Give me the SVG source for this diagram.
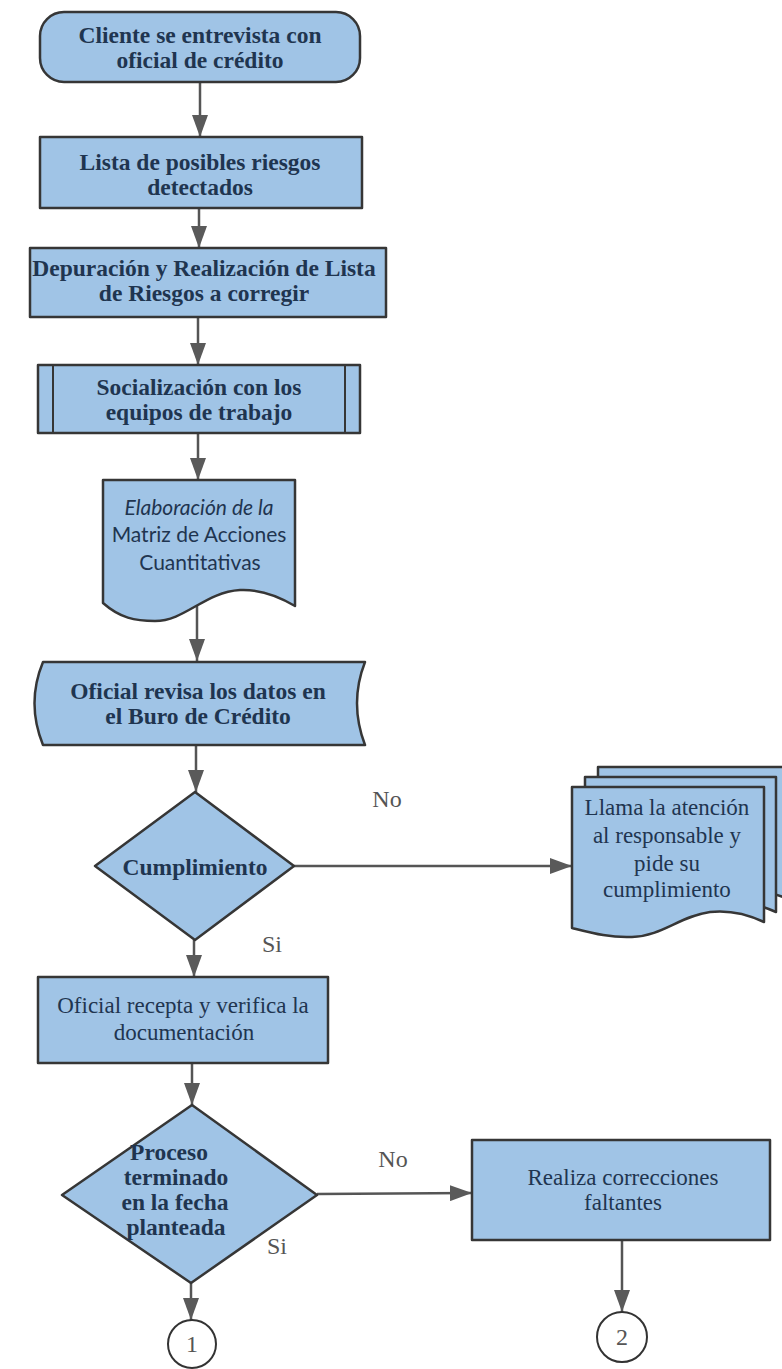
<svg xmlns="http://www.w3.org/2000/svg" width="782" height="1369" viewBox="0 0 782 1369">
<defs>
<style>
.box{fill:#a0c4e6;stroke:#363636;stroke-width:2.5;stroke-linejoin:round}
.thin{fill:none;stroke:#363636;stroke-width:2}
.bt{font-family:"Liberation Serif",serif;font-weight:bold;font-size:23.5px;fill:#1f3550;text-anchor:middle}
.rt{font-family:"Liberation Serif",serif;font-size:23px;fill:#1f3550;text-anchor:middle}
.st{font-family:Lato,"Liberation Sans",sans-serif;font-size:21px;fill:#1f3550;text-anchor:middle}
.lbl{font-family:"Liberation Serif",serif;font-size:24px;fill:#555;text-anchor:middle}
.con{fill:none;stroke:#555;stroke-width:2.5}
.circ{fill:#fff;stroke:#333;stroke-width:2}
</style>
<marker id="ah" markerUnits="userSpaceOnUse" markerWidth="22" markerHeight="16" refX="22" refY="8" orient="auto">
<path d="M0,0 L22,8 L0,16 Z" fill="#5a5a5a"/>
</marker>
</defs>
<rect width="782" height="1369" fill="#fff"/>

<g id="connectors">
<line class="con" x1="200" y1="82" x2="200" y2="137" marker-end="url(#ah)"/>
<line class="con" x1="199" y1="208" x2="199" y2="248" marker-end="url(#ah)"/>
<line class="con" x1="198" y1="317" x2="198" y2="365" marker-end="url(#ah)"/>
<line class="con" x1="198" y1="433" x2="198" y2="480" marker-end="url(#ah)"/>
<line class="con" x1="197" y1="606" x2="197" y2="661" marker-end="url(#ah)"/>
<line class="con" x1="196" y1="745" x2="196" y2="792" marker-end="url(#ah)"/>
<line class="con" x1="194" y1="940" x2="194" y2="977" marker-end="url(#ah)"/>
<line class="con" x1="192" y1="1063" x2="192" y2="1105" marker-end="url(#ah)"/>
<line class="con" x1="191" y1="1283" x2="191" y2="1320" marker-end="url(#ah)"/>
<line class="con" x1="294" y1="866" x2="572" y2="866" marker-end="url(#ah)"/>
<line class="con" x1="317" y1="1194" x2="472" y2="1193" marker-end="url(#ah)"/>
<line class="con" x1="622" y1="1240" x2="622" y2="1312" marker-end="url(#ah)"/>
<text class="lbl" x="387" y="807">No</text>
<text class="lbl" x="272" y="952">Si</text>
<text class="lbl" x="393" y="1167">No</text>
<text class="lbl" x="277" y="1254">Si</text>
</g>

<g id="n1">
<rect class="box" x="40" y="12" width="320" height="70" rx="24"/>
<text class="bt" x="200" y="43">Cliente se entrevista con</text>
<text class="bt" x="200" y="68">oficial de crédito</text>
</g>

<g id="n2">
<rect class="box" x="40" y="137" width="322" height="71"/>
<text class="bt" x="200" y="170">Lista de posibles riesgos</text>
<text class="bt" x="200" y="195">detectados</text>
</g>

<g id="n3">
<rect class="box" x="30" y="248" width="356" height="69"/>
<text class="bt" x="204" y="276">Depuración y Realización de Lista</text>
<text class="bt" x="204" y="301">de Riesgos a corregir</text>
</g>

<g id="n4">
<rect class="box" x="38" y="365" width="322" height="68"/>
<line class="thin" x1="53" y1="365" x2="53" y2="433"/>
<line class="thin" x1="345" y1="365" x2="345" y2="433"/>
<text class="bt" x="199" y="395">Socialización con los</text>
<text class="bt" x="199" y="420">equipos de trabajo</text>
</g>

<g id="n5">
<path class="box" d="M103,480 H295 V606 C280,597 262,589 240,590 C205,592 185,621 155,621 C135,621 120,618 103,603 Z"/>
<text class="st" x="199" y="515" font-style="italic">Elaboración de la</text>
<text class="st" x="199" y="542">Matriz de Acciones</text>
<text class="st" x="200" y="570">Cuantitativas</text>
</g>

<g id="n6">
<path class="box" d="M43,662 H365 Q349,703 365,745 H43 Q26,703 43,662 Z"/>
<text class="bt" x="198" y="699">Oficial revisa los datos en</text>
<text class="bt" x="198" y="724">el Buro de Crédito</text>
</g>

<g id="d1">
<polygon class="box" points="195,792 294,866 195,940 95,866"/>
<text class="bt" x="195" y="875">Cumplimiento</text>
</g>

<g id="n7">
<path class="box" d="M598,767 H790 V900 C770,891 750,888 735,890 C705,894 690,914 660,915 C640,916 620,910 598,902 Z"/>
<path class="box" d="M585,777 H776 V912 C756,903 740,900 722,902 C692,906 676,925 646,926 C626,927 606,920 585,912 Z"/>
<path class="box" d="M572,787 H764 V922 C745,913 728,910 710,912 C680,916 662,936 632,937 C610,938 592,933 572,928 Z"/>
<text class="rt" x="667" y="815">Llama la atención</text>
<text class="rt" x="667" y="843">al responsable y</text>
<text class="rt" x="667" y="871">pide su</text>
<text class="rt" x="667" y="897">cumplimiento</text>
</g>

<g id="n8">
<rect class="box" x="38" y="977" width="290" height="86"/>
<text class="rt" x="183" y="1013">Oficial recepta y verifica la</text>
<text class="rt" x="184" y="1040">documentación</text>
</g>

<g id="d2">
<polygon class="box" points="192,1105 317,1195 191,1283 62,1195"/>
<text class="bt" x="169" y="1160">Proceso</text>
<text class="bt" x="176" y="1185">terminado</text>
<text class="bt" x="175" y="1210">en la fecha</text>
<text class="bt" x="176" y="1235">planteada</text>
</g>

<g id="n9">
<rect class="box" x="472" y="1140" width="298" height="100"/>
<text class="rt" x="623" y="1185">Realiza correcciones</text>
<text class="rt" x="623" y="1210">faltantes</text>
</g>

<g id="c1">
<circle class="circ" cx="192" cy="1344" r="24"/>
<text class="lbl" x="192" y="1352">1</text>
</g>

<g id="c2">
<circle class="circ" cx="622" cy="1337" r="25"/>
<text class="lbl" x="622" y="1345">2</text>
</g>
</svg>
